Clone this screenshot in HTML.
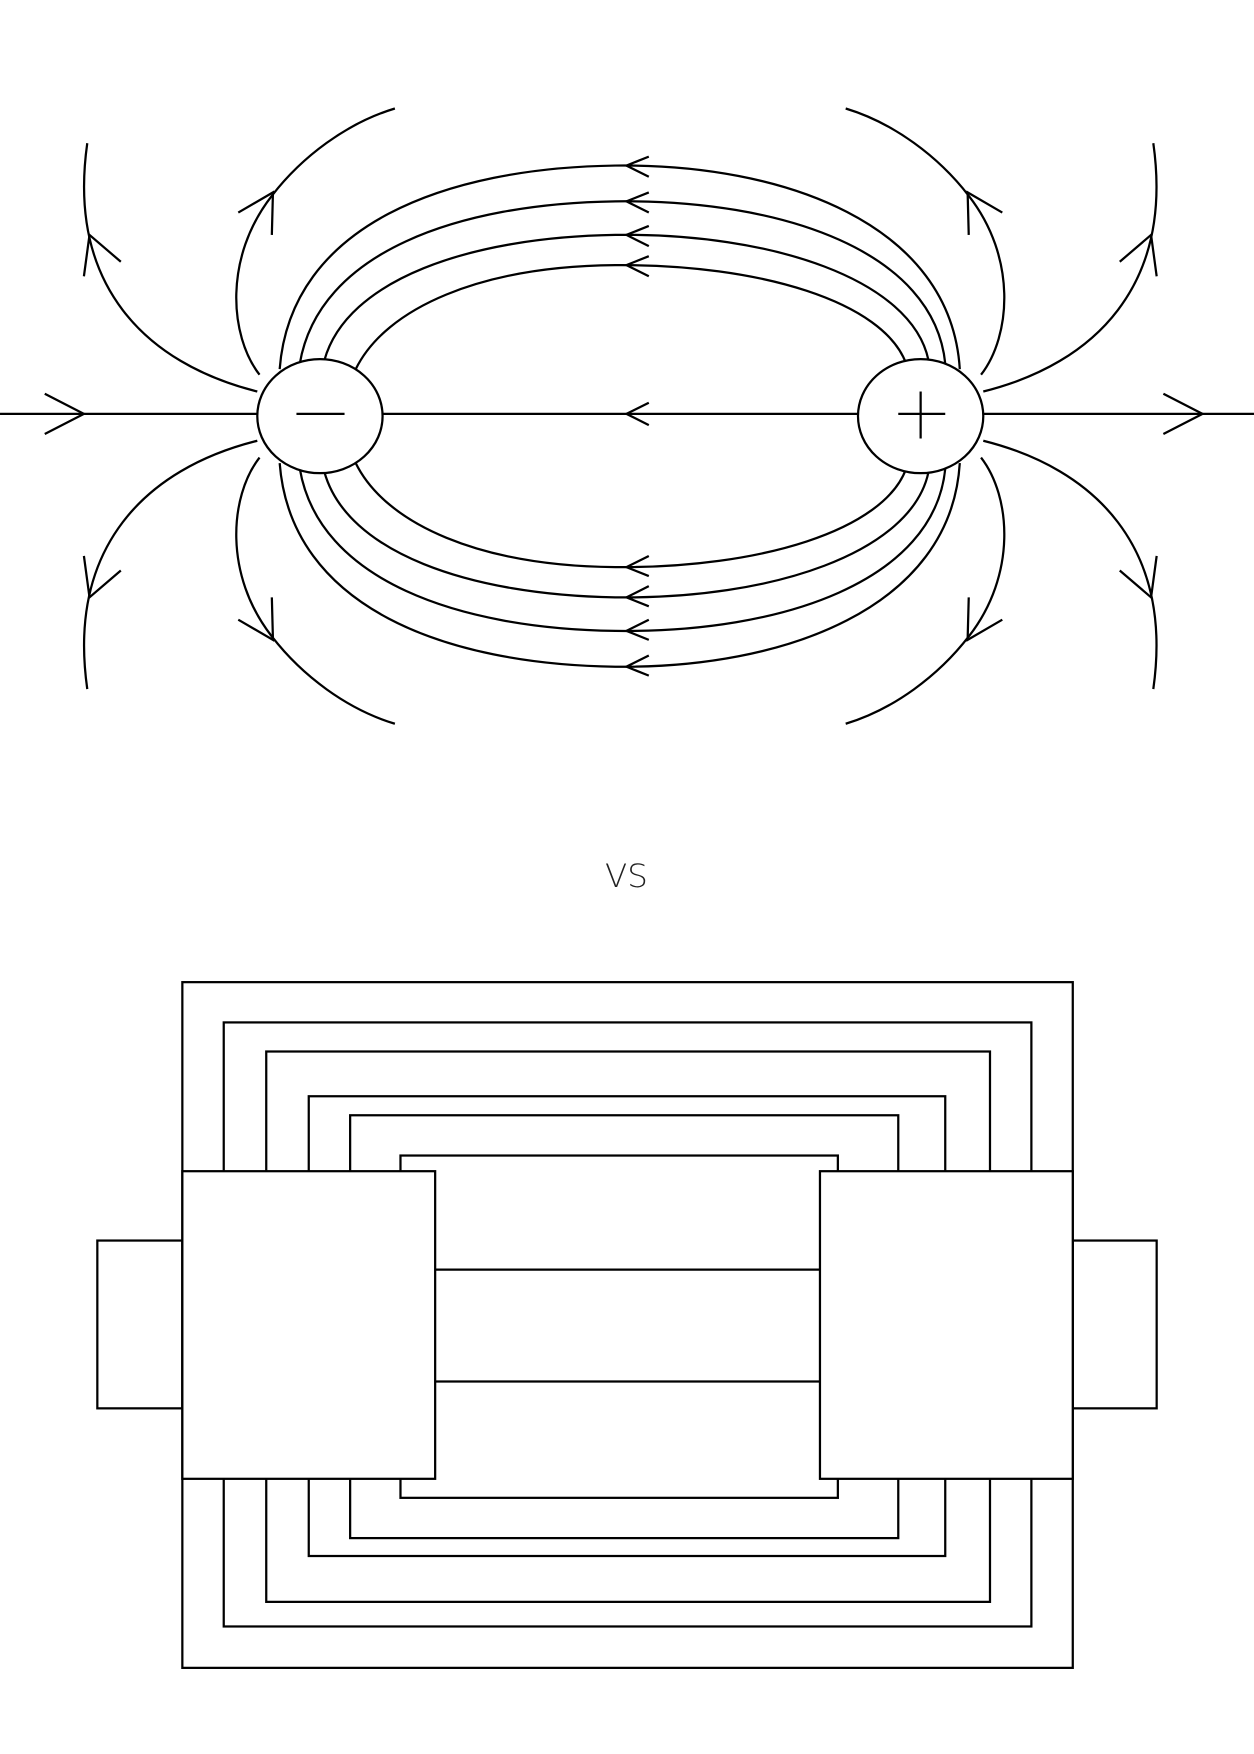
<!DOCTYPE html>
<html><head><style>html,body{margin:0;padding:0;background:#fff}svg{display:block}</style></head><body>
<svg width="1254" height="1754" viewBox="0 0 1121 1568" xmlns="http://www.w3.org/2000/svg">
<g fill="none" stroke="#000" stroke-width="2">
<defs>
<g id="loops">
<path d="M250,330 C260,200 400,150 550,148 C700,146 850,200 858,330"/>
<path d="M268,325 C285,225 410,182 550,180 C700,178 835,225 845,325"/>
<path d="M290,322 C310,250 420,212 550,210 C690,208 815,250 830,322"/>
<path d="M318,330 C345,275 430,238 550,237 C680,236 790,270 810,325"/>
<path d="M580,140 L560,148 L580,158 M580,172 L560,180 L580,190 M580,202 L560,210 L580,220 M580,229 L560,237 L580,247"/>
</g>
<g id="outer">
<path d="M232,335 C205,300 200,230 243,175 C270,140 310,110 353,97"/>
<path d="M213,190 L244,172 L243,210"/>
<path d="M230,350 C130,325 60,255 78,128"/>
<path d="M108,234 L80,210 L75,247"/>
</g>
</defs>
<use href="#loops"/>
<use href="#outer"/>
<use href="#outer" transform="translate(1109,0) scale(-1,1)" />
<g transform="translate(0,744) scale(1,-1)">
<use href="#loops"/>
<use href="#outer"/>
<use href="#outer" transform="translate(1109,0) scale(-1,1)"/>
</g>
<line x1="0" y1="370" x2="230" y2="370"/>
<path d="M40,352 L75,370 L40,388"/>
<line x1="342" y1="370" x2="767" y2="370"/>
<path d="M580,360 L560,370 L580,380"/>
<line x1="879" y1="370" x2="1121" y2="370"/>
<path d="M1040,352 L1075,370 L1040,388"/>
<ellipse cx="286" cy="372" rx="56" ry="51" fill="#fff"/>
<ellipse cx="823" cy="372" rx="56" ry="51" fill="#fff"/>
<line x1="265" y1="370" x2="308" y2="370"/>
<line x1="803" y1="370" x2="845" y2="370"/>
<line x1="823" y1="350" x2="823" y2="392"/>

<rect x="163" y="878" width="796" height="613"/>
<rect x="200" y="914" width="722" height="540"/>
<rect x="238" y="940" width="647" height="492"/>
<rect x="276" y="980" width="569" height="411"/>
<rect x="313" y="997" width="490" height="378"/>
<rect x="358" y="1033" width="391" height="306"/>
<rect x="87" y="1109" width="76" height="150"/>
<rect x="959" y="1109" width="75" height="150"/>
<rect x="163" y="1047" width="226" height="275" fill="#fff"/>
<rect x="733" y="1047" width="226" height="275" fill="#fff"/>
<line x1="389" y1="1135" x2="733" y2="1135"/>
<line x1="389" y1="1235" x2="733" y2="1235"/>
</g>
<text x="560" y="793" text-anchor="middle" font-family="DejaVu Sans, sans-serif" font-weight="300" font-size="29" fill="#222">VS</text>
</svg>
</body></html>
